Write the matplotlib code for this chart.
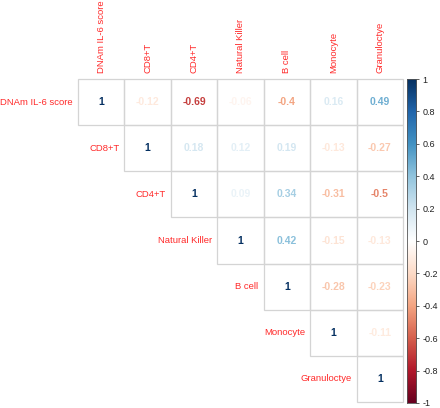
import matplotlib
matplotlib.use("Agg")
import matplotlib.pyplot as plt
from matplotlib.colors import LinearSegmentedColormap
from matplotlib.patches import Rectangle
import numpy as np

plt.rcParams['font.family'] = ['Liberation Sans', 'DejaVu Sans']

labels = ["DNAm IL-6 score", "CD8+T", "CD4+T", "Natural Killer",
          "B cell", "Monocyte", "Granuloctye"]
# upper triangle, row by row (diagonal first)
row0 = [1, -0.12, -0.69, -0.06, -0.4, 0.16, 0.49]
row1 = [1, 0.18, 0.12, 0.19, -0.13, -0.27]
row2 = [1, 0.09, 0.34, -0.31, -0.5]
row3 = [1, 0.42, -0.15, -0.13]
row4 = [1, -0.28, -0.23]
row5 = [1, -0.11]
row6 = [1]
rows = [row0, row1, row2, row3, row4, row5, row6]
cbar_ticks = [-1, -0.8, -0.6, -0.4, -0.2, 0, 0.2, 0.4, 0.6, 0.8, 1]

# corrplot RdBu palette
cols = ["#67001F", "#B2182B", "#D6604D", "#F4A582", "#FDDBC7", "#FFFFFF",
        "#D1E5F0", "#92C5DE", "#4393C3", "#2166AC", "#053061"]
cmap = LinearSegmentedColormap.from_list("corr", cols)

W, H = 440, 408
fig = plt.figure(figsize=(W / 100, H / 100), dpi=100)

n = len(labels)
ax = fig.add_axes([78 / W, (H - 402) / H, 325 / W, 323 / H])
ax.set_xlim(0, n)
ax.set_ylim(n, 0)
ax.axis("off")

grid_col = "#d4d4d4"
for i, r in enumerate(rows):
    for k, v in enumerate(r):
        j = i + k
        ax.add_patch(Rectangle((j, i), 1, 1, fill=False, ec=grid_col, lw=0.9,
                               clip_on=False))
        ax.text(j + 0.5, i + 0.5, f"{v:g}", ha="center", va="center",
                fontsize=7.5, fontweight="bold", color=cmap((v + 1) / 2))
    # row label just left of the diagonal cell
    ax.text(i - 0.11, i + 0.5, labels[i], ha="right", va="center",
            fontsize=6.8, color="#ff2a2a")
    # column label above the grid
    ax.text(i + 0.5, -0.12, labels[i], ha="center", va="bottom",
            rotation=90, fontsize=6.8, color="#ff2a2a")

# colour legend
cax = fig.add_axes([407 / W, (H - 403) / H, 9 / W, 324 / H])
grad = np.linspace(-1, 1, 256).reshape(-1, 1)
cax.imshow(grad, cmap=cmap, aspect="auto", origin="lower",
           extent=[0, 1, -1, 1], vmin=-1, vmax=1)
cax.set_xticks([])
cax.yaxis.tick_right()
cax.set_yticks(cbar_ticks)
cax.set_yticklabels([f"{t:g}" for t in cbar_ticks], fontsize=6.5, color="#222222")
cax.tick_params(axis="y", length=2.5, width=0.6, pad=2, colors="#444444",
                labelcolor="#222222")
for s in cax.spines.values():
    s.set_color("#555555")
    s.set_linewidth(0.6)

fig.savefig("out.png", dpi=100)
